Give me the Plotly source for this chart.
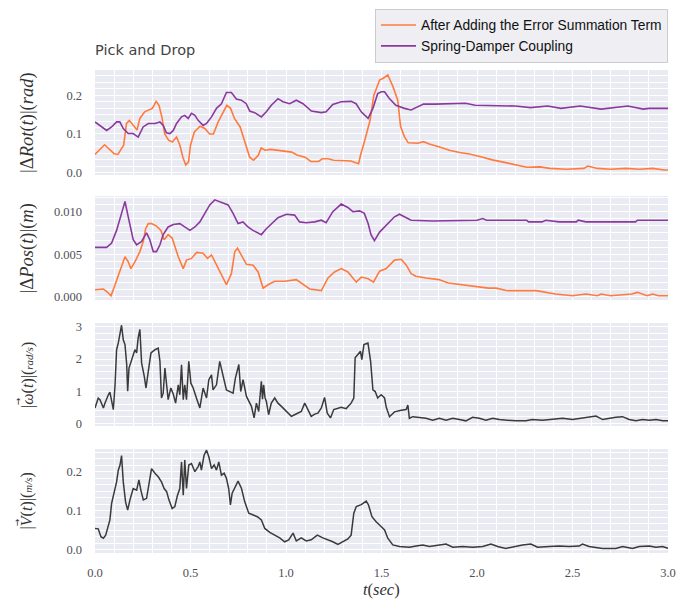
import plotly.graph_objects as go
from plotly.subplots import make_subplots

# ---------------- data ----------------
# Panel 1: |ΔRot(t)| (rad)
t_rot_after = [0, 0.05, 0.1, 0.12, 0.15, 0.165, 0.18, 0.2, 0.22, 0.235,
               0.26, 0.3, 0.32, 0.335, 0.35, 0.365, 0.385, 0.405, 0.427, 0.445,
               0.46, 0.475, 0.49, 0.5, 0.52, 0.55, 0.575, 0.6, 0.62, 0.645,
               0.67, 0.69, 0.71, 0.73, 0.76, 0.785, 0.81, 0.83, 0.855, 0.87,
               0.89, 0.92, 0.96, 0.99, 1.03, 1.06, 1.1, 1.13, 1.17, 1.19,
               1.22, 1.25, 1.31, 1.34, 1.38, 1.39, 1.41, 1.44, 1.46, 1.49,
               1.507, 1.533, 1.56, 1.585, 1.6, 1.62, 1.64, 1.69, 1.72, 1.75,
               1.8, 1.86, 1.91, 1.96, 2.03, 2.08, 2.15, 2.21, 2.26, 2.33,
               2.38, 2.47, 2.56, 2.58, 2.63, 2.7, 2.78, 2.85, 2.92, 2.98,
               3.0]
rot_after = [0.047, 0.072, 0.049, 0.047, 0.071, 0.127, 0.135, 0.122, 0.11, 0.14,
             0.157, 0.166, 0.184, 0.174, 0.144, 0.10, 0.084, 0.079, 0.092, 0.07,
             0.04, 0.02, 0.028, 0.071, 0.105, 0.12, 0.114, 0.10, 0.10, 0.131,
             0.157, 0.174, 0.166, 0.14, 0.118, 0.079, 0.04, 0.032, 0.045, 0.064,
             0.058, 0.06, 0.058, 0.055, 0.053, 0.045, 0.04, 0.029, 0.029, 0.036,
             0.036, 0.032, 0.03, 0.03, 0.023, 0.045, 0.079, 0.135, 0.2, 0.239,
             0.243, 0.252, 0.222, 0.187, 0.119, 0.093, 0.077, 0.076, 0.08, 0.074,
             0.067, 0.057, 0.052, 0.048, 0.04, 0.033, 0.026, 0.02, 0.014, 0.015,
             0.011, 0.009, 0.011, 0.017, 0.011, 0.009, 0.011, 0.009, 0.011, 0.007,
             0.007]

t_rot_sd = [0, 0.026, 0.061, 0.087, 0.113, 0.13, 0.148, 0.174, 0.2, 0.226,
            0.252, 0.279, 0.314, 0.34, 0.357, 0.374, 0.392, 0.41, 0.427, 0.453,
            0.47, 0.488, 0.505, 0.523, 0.54, 0.566, 0.584, 0.61, 0.636, 0.662,
            0.688, 0.714, 0.74, 0.766, 0.792, 0.81, 0.836, 0.871, 0.897, 0.923,
            0.958, 0.984, 1.019, 1.054, 1.089, 1.133, 1.185, 1.21, 1.245, 1.289,
            1.341, 1.367, 1.394, 1.43, 1.455, 1.48, 1.50, 1.516, 1.54, 1.575,
            1.62, 1.655, 1.68, 1.72, 1.78, 1.94, 1.99, 2.2, 2.28, 2.37,
            2.44, 2.54, 2.65, 2.72, 2.79, 2.87, 2.9, 3.0]
rot_sd = [0.131, 0.122, 0.109, 0.118, 0.131, 0.131, 0.114, 0.101, 0.101, 0.092,
          0.118, 0.127, 0.127, 0.131, 0.122, 0.103, 0.101, 0.109, 0.127, 0.144,
          0.148, 0.14, 0.153, 0.148, 0.135, 0.122, 0.127, 0.144, 0.166, 0.178,
          0.207, 0.207, 0.19, 0.187, 0.178, 0.159, 0.155, 0.144, 0.157, 0.174,
          0.191, 0.183, 0.178, 0.187, 0.178, 0.159, 0.155, 0.157, 0.176, 0.183,
          0.184, 0.178, 0.157, 0.14, 0.166, 0.204, 0.209, 0.209, 0.192, 0.174,
          0.166, 0.162, 0.168, 0.177, 0.177, 0.179, 0.174, 0.172, 0.168, 0.172,
          0.166, 0.172, 0.164, 0.168, 0.172, 0.164, 0.166, 0.166]

# Panel 2: |ΔPos(t)| (m)
t_pos_after = [0, 0.044, 0.061, 0.084, 0.105, 0.131, 0.157, 0.174, 0.188, 0.209,
               0.235, 0.253, 0.265, 0.279, 0.296, 0.322, 0.345, 0.362, 0.383, 0.404,
               0.436, 0.462, 0.479, 0.505, 0.532, 0.566, 0.589, 0.61, 0.636, 0.662,
               0.688, 0.714, 0.732, 0.746, 0.767, 0.793, 0.828, 0.854, 0.88, 0.906,
               0.941, 0.993, 1.054, 1.089, 1.124, 1.185, 1.22, 1.254, 1.289, 1.324,
               1.368, 1.394, 1.43, 1.458, 1.49, 1.525, 1.568, 1.603, 1.63, 1.655,
               1.68, 1.733, 1.8, 1.85, 1.92, 1.99, 2.06, 2.1, 2.16, 2.31,
               2.41, 2.5, 2.57, 2.63, 2.65, 2.7, 2.81, 2.84, 2.89, 2.92,
               2.95, 3.0]
pos_after = [0.0008, 0.0009, 0.0006, 0.0001, 0.0014, 0.0031, 0.0047, 0.0041, 0.0033, 0.0041,
             0.0053, 0.0065, 0.008, 0.0086, 0.0086, 0.0083, 0.0078, 0.0067, 0.0073, 0.0069,
             0.0047, 0.0033, 0.0043, 0.0045, 0.0052, 0.0051, 0.0045, 0.0049, 0.0037, 0.0024,
             0.0014, 0.0027, 0.0053, 0.0057, 0.0049, 0.0038, 0.0037, 0.0029, 0.001, 0.0014,
             0.0018, 0.0018, 0.002, 0.0014, 0.0009, 0.0007, 0.0022, 0.0029, 0.0033, 0.0029,
             0.0017, 0.0023, 0.0021, 0.0017, 0.003, 0.0033, 0.0043, 0.0044, 0.0037, 0.0027,
             0.0024, 0.0022, 0.002, 0.0016, 0.0014, 0.0012, 0.001, 0.001, 0.0007, 0.0007,
             0.0003, 0.0001, 0.0003, 0.0001, 0.0003, 0.0001, 0.0003, 0.0005, 0.0001, 0.0003,
             0.0001, 0.0001]

t_pos_sd = [0, 0.061, 0.087, 0.113, 0.139, 0.157, 0.174, 0.2, 0.218, 0.244,
            0.27, 0.287, 0.305, 0.322, 0.34, 0.357, 0.383, 0.41, 0.444, 0.47,
            0.497, 0.523, 0.549, 0.575, 0.601, 0.627, 0.662, 0.697, 0.723, 0.749,
            0.775, 0.801, 0.827, 0.854, 0.871, 0.897, 0.932, 0.958, 1.002, 1.045,
            1.071, 1.106, 1.15, 1.185, 1.21, 1.245, 1.289, 1.324, 1.35, 1.385,
            1.41, 1.43, 1.445, 1.463, 1.49, 1.525, 1.568, 1.594, 1.62, 1.655,
            1.77, 2.0, 2.03, 2.05, 2.26, 2.27, 2.34, 2.36, 2.43, 2.52,
            2.53, 2.57, 2.83, 2.84, 3.0]
pos_sd = [0.0058, 0.0058, 0.0063, 0.0078, 0.0098, 0.0112, 0.0094, 0.0067, 0.0061, 0.0065,
          0.0075, 0.0067, 0.0053, 0.0053, 0.0061, 0.0073, 0.0082, 0.0085, 0.0086, 0.0082,
          0.0078, 0.0082, 0.0088, 0.0098, 0.0108, 0.0114, 0.0111, 0.0108, 0.0098, 0.0086,
          0.0088, 0.0082, 0.0078, 0.0075, 0.0073, 0.008, 0.0088, 0.0093, 0.0097, 0.0096,
          0.0088, 0.0087, 0.0088, 0.009, 0.0087, 0.01, 0.0109, 0.0105, 0.01, 0.0101,
          0.0098, 0.0086, 0.0073, 0.0066, 0.0076, 0.0084, 0.0094, 0.0097, 0.0094, 0.009,
          0.0089, 0.009, 0.0092, 0.009, 0.009, 0.0088, 0.0088, 0.009, 0.0088, 0.0088,
          0.009, 0.0088, 0.0088, 0.009, 0.009]

# Panel 3: |omega(t)| (rad/s)
t_omega = [0, 0.017, 0.026, 0.035, 0.044, 0.052, 0.061, 0.07, 0.078, 0.087,
           0.096, 0.105, 0.113, 0.122, 0.131, 0.139, 0.148, 0.157, 0.166, 0.171,
           0.178, 0.192, 0.2, 0.209, 0.218, 0.226, 0.235, 0.244, 0.258, 0.267,
           0.279, 0.293, 0.314, 0.331, 0.34, 0.348, 0.357, 0.366, 0.375, 0.383,
           0.397, 0.41, 0.422, 0.436, 0.444, 0.453, 0.462, 0.47, 0.479, 0.491,
           0.502, 0.514, 0.531, 0.549, 0.566, 0.584, 0.596, 0.61, 0.618, 0.636,
           0.653, 0.671, 0.688, 0.706, 0.723, 0.735, 0.753, 0.763, 0.775, 0.793,
           0.805, 0.819, 0.833, 0.845, 0.857, 0.871, 0.877, 0.883, 0.89, 0.897,
           0.909, 0.923, 0.941, 0.958, 0.976, 0.993, 1.01, 1.028, 1.045, 1.063,
           1.08, 1.098, 1.115, 1.132, 1.15, 1.167, 1.185, 1.202, 1.216, 1.233,
           1.25, 1.272, 1.289, 1.315, 1.341, 1.355, 1.362, 1.376, 1.39, 1.397,
           1.408, 1.429, 1.443, 1.455, 1.467, 1.48, 1.498, 1.516, 1.525, 1.542,
           1.568, 1.603, 1.629, 1.638, 1.646, 1.664, 1.699, 1.733, 1.768, 1.803,
           1.838, 1.873, 1.908, 1.942, 1.977, 2.012, 2.047, 2.082, 2.117, 2.151,
           2.204, 2.256, 2.29, 2.343, 2.395, 2.448, 2.5, 2.553, 2.588, 2.623,
           2.658, 2.692, 2.727, 2.762, 2.797, 2.832, 2.867, 2.902, 2.937, 2.972,
           3.0]
omega = [0.48, 0.79, 0.74, 0.6, 0.48, 0.63, 0.79, 0.89, 0.97, 0.74,
         0.43, 1.2, 2.29, 2.5, 2.81, 3.05, 2.6, 2.45, 1.83, 1.0,
         1.72, 1.98, 2.09, 2.29, 2.19, 2.66, 2.92, 1.88, 1.46, 1.1,
         1.62, 2.19, 2.29, 2.34, 1.93, 0.79, 0.94, 1.72, 1.2, 0.74,
         1.1, 0.91, 0.63, 1.2, 0.89, 1.82, 0.74, 1.2, 0.74, 1.93,
         1.25, 1.1, 0.79, 0.48, 1.1, 0.79, 1.36, 1.51, 1.04, 1.2,
         1.93, 1.46, 1.04, 0.99, 0.94, 1.41, 1.83, 0.99, 1.36, 0.84,
         0.69, 0.53, 0.17, 0.63, 0.37, 1.31, 0.75, 1.2, 0.8, 0.69,
         0.27, 0.63, 0.79, 0.63, 0.53, 0.43, 0.32, 0.22, 0.27, 0.32,
         0.37, 0.63, 0.43, 0.22, 0.29, 0.32, 0.48, 0.81, 0.32, 0.17,
         0.43, 0.46, 0.5, 0.46, 0.63, 0.79, 2.04, 2.14, 2.24, 1.98,
         2.45, 2.5, 1.93, 1.04, 0.99, 0.79, 0.89, 0.79, 0.5, 0.21,
         0.36, 0.41, 0.43, 0.57, 0.16, 0.21, 0.19, 0.16, 0.1, 0.16,
         0.1, 0.16, 0.12, 0.08, 0.19, 0.16, 0.1, 0.16, 0.12, 0.1,
         0.08, 0.08, 0.12, 0.1, 0.12, 0.16, 0.12, 0.16, 0.19, 0.23,
         0.12, 0.16, 0.19, 0.21, 0.12, 0.08, 0.12, 0.1, 0.12, 0.08,
         0.08]

# Panel 4: |V(t)| (m/s)
t_vel = [0, 0.017, 0.031, 0.044, 0.056, 0.07, 0.078, 0.087, 0.101, 0.113,
         0.122, 0.131, 0.139, 0.148, 0.16, 0.171, 0.183, 0.2, 0.218, 0.23,
         0.24, 0.253, 0.27, 0.282, 0.296, 0.314, 0.331, 0.348, 0.362, 0.375,
         0.387, 0.404, 0.418, 0.432, 0.444, 0.453, 0.462, 0.47, 0.479, 0.491,
         0.505, 0.523, 0.54, 0.549, 0.557, 0.571, 0.584, 0.596, 0.61, 0.624,
         0.636, 0.648, 0.662, 0.676, 0.688, 0.7, 0.709, 0.718, 0.735, 0.749,
         0.767, 0.784, 0.805, 0.828, 0.85, 0.871, 0.889, 0.915, 0.941, 0.967,
         0.993, 1.014, 1.037, 1.054, 1.08, 1.106, 1.132, 1.164, 1.193, 1.22,
         1.245, 1.272, 1.298, 1.324, 1.341, 1.355, 1.368, 1.394, 1.42, 1.432,
         1.45, 1.472, 1.498, 1.516, 1.533, 1.559, 1.594, 1.646, 1.681, 1.716,
         1.751, 1.803, 1.838, 1.873, 1.925, 1.977, 2.03, 2.073, 2.108, 2.151,
         2.204, 2.238, 2.282, 2.317, 2.378, 2.43, 2.482, 2.535, 2.552, 2.587,
         2.657, 2.727, 2.762, 2.814, 2.849, 2.902, 2.937, 2.972, 3.0]
vel = [0.055, 0.054, 0.034, 0.03, 0.038, 0.064, 0.077, 0.119, 0.149, 0.174,
       0.204, 0.217, 0.241, 0.174, 0.123, 0.102, 0.128, 0.157, 0.153, 0.179,
       0.153, 0.128, 0.132, 0.166, 0.208, 0.196, 0.187, 0.174, 0.157, 0.149,
       0.128, 0.106, 0.111, 0.14, 0.157, 0.225, 0.14, 0.23, 0.157, 0.217,
       0.221, 0.2, 0.213, 0.225, 0.204, 0.242, 0.255, 0.238, 0.208, 0.217,
       0.204, 0.225, 0.191, 0.196, 0.183, 0.157, 0.115, 0.145, 0.162, 0.176,
       0.157, 0.123, 0.094, 0.089, 0.085, 0.077, 0.055, 0.045, 0.038, 0.031,
       0.021, 0.026, 0.043, 0.023, 0.031, 0.023, 0.026, 0.038, 0.031, 0.026,
       0.021, 0.014, 0.02, 0.028, 0.038, 0.094, 0.111, 0.116, 0.125, 0.115,
       0.085, 0.072, 0.06, 0.051, 0.03, 0.013, 0.009, 0.007, 0.01, 0.013,
       0.009, 0.013, 0.015, 0.007, 0.009, 0.007, 0.009, 0.015, 0.009, 0.004,
       0.009, 0.013, 0.015, 0.007, 0.009, 0.01, 0.009, 0.01, 0.015, 0.009,
       0.004, 0.004, 0.009, 0.004, 0.009, 0.01, 0.007, 0.009, 0.004]

x_ticks = [0.0, 0.5, 1.0, 1.5, 2.0, 2.5, 3.0]
series_names = ["After Adding the Error Summation Term", "Spring-Damper Coupling"]

# ---------------- figure ----------------
ORANGE = "#FF7B3D"
PURPLE = "#8A3A9E"
DARK = "#3A3A3A"
BG = "#EAEAF2"

fig = make_subplots(rows=4, cols=1, shared_xaxes=True)

fig.add_trace(go.Scatter(x=t_rot_after, y=rot_after, mode="lines", name=series_names[0],
                         line=dict(color=ORANGE, width=1.6)), row=1, col=1)
fig.add_trace(go.Scatter(x=t_rot_sd, y=rot_sd, mode="lines", name=series_names[1],
                         line=dict(color=PURPLE, width=1.6)), row=1, col=1)
fig.add_trace(go.Scatter(x=t_pos_after, y=pos_after, mode="lines", showlegend=False,
                         line=dict(color=ORANGE, width=1.6)), row=2, col=1)
fig.add_trace(go.Scatter(x=t_pos_sd, y=pos_sd, mode="lines", showlegend=False,
                         line=dict(color=PURPLE, width=1.6)), row=2, col=1)
fig.add_trace(go.Scatter(x=t_omega, y=omega, mode="lines", showlegend=False,
                         line=dict(color=DARK, width=1.5)), row=3, col=1)
fig.add_trace(go.Scatter(x=t_vel, y=vel, mode="lines", showlegend=False,
                         line=dict(color=DARK, width=1.5)), row=4, col=1)

TICKFONT = dict(family="Liberation Serif", size=12.5, color="#4F4F55")
# page body has an 8px margin: figure coords = screen coords - 8
OFF = 8
W, HT = 697 - OFF, 601 - OFF
ML, MR, MT, MB = 95 - OFF, W - (668 - OFF), 70 - OFF, HT - (553 - OFF)
H = HT - MT - MB

def dom(top_px, bot_px):
    return [1 - (bot_px - 70) / H, 1 - (top_px - 70) / H]

for i in range(1, 5):
    fig.update_xaxes(row=i, col=1, range=[0, 3.0], tickvals=x_ticks, tickformat=".1f",
                     showgrid=True, gridcolor="white", gridwidth=1,
                     minor=dict(dtick=0.1, showgrid=True, gridcolor="white", gridwidth=1),
                     zeroline=False, showline=False, ticks="",
                     tickfont=TICKFONT, ticklabelstandoff=10,
                     showticklabels=(i == 4))

ycfg = [
    (dict(range=[-0.006, 0.265], dtick=0.1, tickformat=".1f"), 0.1 / 6, dom(70, 175)),
    (dict(range=[-0.0004, 0.01185], dtick=0.005, tickformat=".3f"), 0.005 / 6, dom(196, 300)),
    (dict(range=[-0.08, 3.12], dtick=1, tickformat="d"), 0.2, dom(323, 426)),
    (dict(range=[-0.0077, 0.258], dtick=0.1, tickformat=".1f"), 0.1 / 6, dom(449, 553)),
]
for i, (cfg, mdt, d) in enumerate(ycfg, start=1):
    fig.update_yaxes(row=i, col=1, domain=d, tick0=0, showgrid=True, gridcolor="white",
                     gridwidth=1, minor=dict(dtick=mdt, tick0=0, showgrid=True,
                                             gridcolor="white", gridwidth=1),
                     zeroline=False, showline=False, ticks="", tickfont=TICKFONT,
                     ticklabelstandoff=12, **cfg)

ytitles = [
    "|Δ<i>Rot</i>(<i>t</i>)|(<i>rad</i>)",
    "|Δ<i>Pos</i>(<i>t</i>)|(<i>m</i>)",
    "|<i>ω</i>(<i>t</i>)|(<span style='font-size:11px'><i>rad/s</i></span>)",
    "|<i>V</i>(<i>t</i>)|(<span style='font-size:11px'><i>m/s</i></span>)",
]
ysizes = [18.5, 18.5, 16, 16]
yrefs = ["y domain", "y2 domain", "y3 domain", "y4 domain"]
annotations = []
for txt, yr, sz in zip(ytitles, yrefs, ysizes):
    annotations.append(dict(text=txt, xref="paper", yref=yr, x=-0.118, y=0.5,
                            xanchor="center", yanchor="middle", textangle=-90,
                            showarrow=False,
                            font=dict(family="Liberation Serif", size=sz, color="#333333")))
# vector arrows over ω and V
for yr, yy, xx in [("y3 domain", 0.243, -0.134), ("y4 domain", 0.30, -0.137)]:
    annotations.append(dict(text="→", xref="paper", yref=yr, x=xx, y=yy,
                            xanchor="center", yanchor="middle", textangle=-90,
                            showarrow=False,
                            font=dict(family="DejaVu Sans", size=9, color="#333333")))
annotations.append(dict(text="<i>t</i>(<i>sec</i>)", xref="paper", yref="paper",
                        x=0.5, y=-36 / H, xanchor="center", yanchor="middle",
                        showarrow=False,
                        font=dict(family="Liberation Serif", size=16.5, color="#333333")))

fig.update_layout(
    width=W, height=HT,
    margin=dict(l=ML, r=MR, t=MT, b=MB, autoexpand=False),
    paper_bgcolor="white", plot_bgcolor=BG,
    title=dict(text="Pick and Drop", x=0, xref="paper", xanchor="left",
               y=1 - (50 - OFF) / HT, yref="container", yanchor="middle",
               font=dict(family="DejaVu Sans", size=14.5, color="#444444")),
    legend=dict(x=1.0, xanchor="right", y=1 + (MT - 0.5) / H, yanchor="top",
                bgcolor="#EEEEF3", bordercolor="#CCCCCC", borderwidth=1,
                font=dict(family="Liberation Sans", size=13.8, color="#111111"),
                itemwidth=35, tracegroupgap=0),
    annotations=annotations,
    showlegend=True,
)

fig.write_html("out.html")
